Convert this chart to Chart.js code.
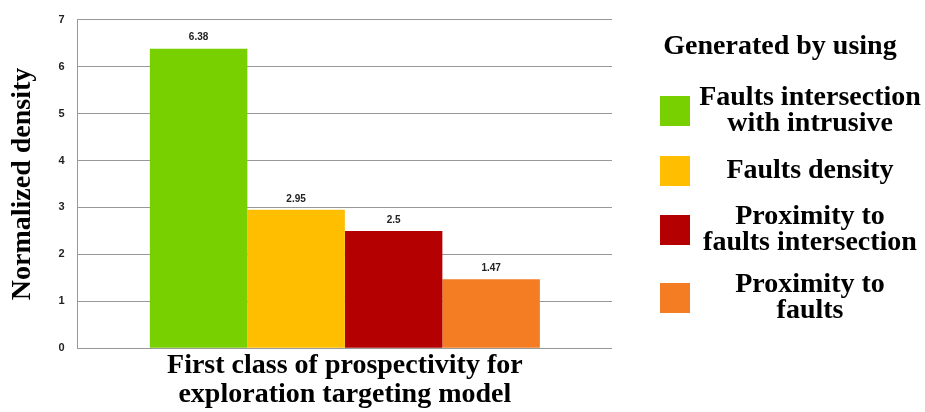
<!DOCTYPE html>
<html>
<head>
<meta charset="utf-8">
<title>Normalized density</title>
<script src="https://cdn.jsdelivr.net/npm/chart.js@4"></script>
<style>
  body { margin: 0; background: #fff; }
  #wrap { width: 925px; height: 412px; }
</style>
</head>
<body>
<div id="wrap"><canvas id="densityChart" width="925" height="412"></canvas></div>
<script>
// Chart data
const categories = [['First class of prospectivity for', 'exploration targeting model']];
const seriesLabels = [
    ['Faults intersection', 'with intrusive'],
    ['Faults density'],
    ['Proximity to', 'faults intersection'],
    ['Proximity to', 'faults']
];
const seriesValues = [6.38, 2.95, 2.5, 1.47];
const seriesColors = ['#78d000', '#ffbf00', '#b40000', '#f47c22'];
const yTicks = [0, 1, 2, 3, 4, 5, 6, 7];
const legendTitle = 'Generated by using';

const serif = '"Liberation Serif", "DejaVu Serif", serif';
const sans = '"Liberation Sans", Arial, sans-serif';

// Value labels above each bar
const valueLabels = {
    id: 'valueLabels',
    afterDatasetsDraw(chart) {
        const ctx = chart.ctx;
        ctx.save();
        ctx.font = 'bold 10px ' + sans;
        ctx.fillStyle = '#222';
        ctx.textAlign = 'center';
        ctx.textBaseline = 'bottom';
        chart.data.datasets.forEach((ds, i) => {
            const bar = chart.getDatasetMeta(i).data[0];
            ctx.fillText(String(ds.data[0]), bar.x, bar.y - 6);
        });
        ctx.restore();
    }
};

// Legend on the right, with multi-line labels
const sideLegend = {
    id: 'sideLegend',
    afterDraw(chart) {
        const ctx = chart.ctx;
        const left = chart.chartArea.right + 48;
        const textX = left + 150;
        const rows = [111, 171, 230, 298];
        ctx.save();
        ctx.fillStyle = '#000';
        ctx.textAlign = 'center';
        ctx.textBaseline = 'middle';
        ctx.font = 'bold 28px ' + serif;
        ctx.fillText(legendTitle, textX - 30, 47);
        chart.data.datasets.forEach((ds, i) => {
            const y = rows[i];
            ctx.fillStyle = ds.backgroundColor;
            ctx.fillRect(left, y - 15, 30, 30);
            ctx.fillStyle = '#000';
            const lines = seriesLabels[i];
            lines.forEach((line, j) => {
                const ly = y + (j - (lines.length - 1) / 2) * 26;
                ctx.fillText(line, textX, ly);
            });
        });
        ctx.restore();
    }
};

new Chart(document.getElementById('densityChart'), {
    type: 'bar',
    data: {
        labels: categories,
        datasets: seriesValues.map((v, i) => ({
            label: seriesLabels[i].join(' '),
            data: [v],
            backgroundColor: seriesColors[i],
            borderWidth: 0,
            categoryPercentage: 0.73,
            barPercentage: 1.0
        }))
    },
    options: {
        responsive: false,
        animation: false,
        layout: { padding: { top: 10, right: 313, left: 6, bottom: 0 } },
        plugins: {
            legend: { display: false },
            tooltip: { enabled: false }
        },
        scales: {
            x: {
                grid: { display: false, drawTicks: false },
                border: { display: false },
                ticks: {
                    color: '#000',
                    font: { family: serif, size: 28, weight: 'bold', lineHeight: 1.03 },
                    padding: 3,
                    maxRotation: 0
                }
            },
            y: {
                min: 0,
                max: 7,
                afterBuildTicks(axis) {
                    axis.ticks = yTicks.map(v => ({ value: v }));
                },
                grid: { color: '#999', lineWidth: 1, drawTicks: false },
                border: { color: '#999' },
                ticks: {
                    color: '#222',
                    font: { family: sans, size: 11, weight: 'bold' },
                    padding: 13
                },
                title: {
                    display: true,
                    text: 'Normalized density',
                    color: '#000',
                    font: { family: serif, size: 28, weight: 'bold' },
                    padding: { top: 0, bottom: 6 }
                }
            }
        }
    },
    plugins: [valueLabels, sideLegend]
});
</script>
</body>
</html>
